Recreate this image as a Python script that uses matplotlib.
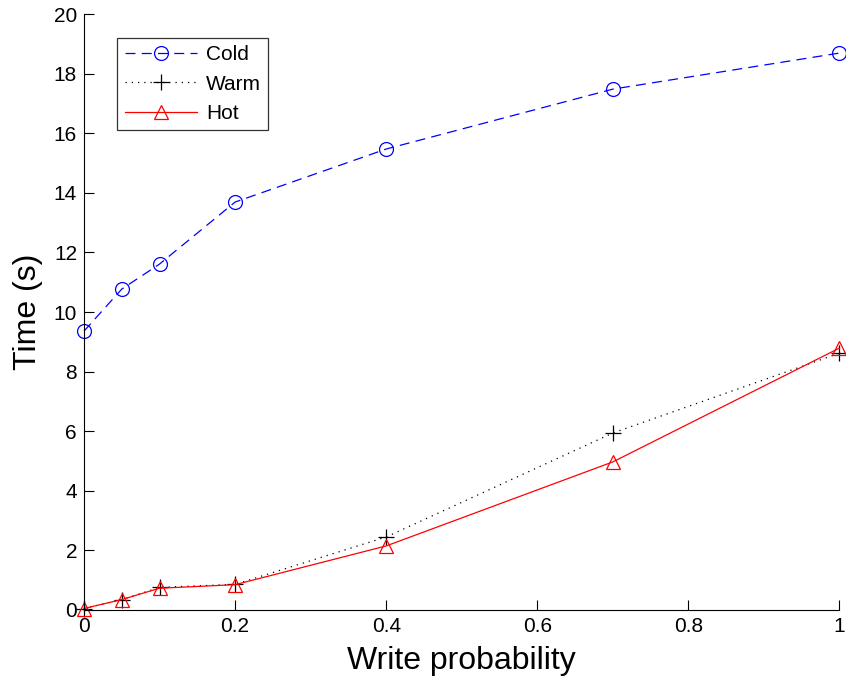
import numpy as np
import matplotlib.pyplot as plt

plt.rcParams['font.family'] = ['Liberation Sans', 'DejaVu Sans']

# write probability on x
prob = [0, 0.05, 0.1, 0.2, 0.4, 0.7, 1.0]
cold = [9.36, 10.77, 11.61, 13.69, 15.47, 17.48, 18.69]
warm = [0.05, 0.35, 0.76, 0.86, 2.45, 5.94, 8.62]
hot = [0.05, 0.35, 0.73, 0.85, 2.15, 4.97, 8.79]

fig = plt.figure(figsize=(8.46, 6.78), dpi=100)
ax = fig.add_axes([0.0993, 0.1003, 0.893, 0.879])

ax.plot(prob, cold, color='blue', ls=(0, (8, 5)), lw=0.9, marker='o',
        ms=10, mfc='none', mec='blue', mew=0.9, label='Cold', clip_on=False)
ax.plot(prob, warm, color='black', ls=(0, (1, 4)), lw=0.9, marker='+',
        ms=11, mew=0.9, label='Warm', clip_on=False)
ax.plot(prob, hot, color='red', ls='-', lw=0.9, marker='^',
        ms=10, mfc='none', mec='red', mew=0.9, label='Hot', clip_on=False)

ax.set_xlim(0, 1)
ax.set_ylim(0, 20)
ax.set_xticks([0, 0.2, 0.4, 0.6, 0.8, 1])
ax.set_xticklabels(['0', '0.2', '0.4', '0.6', '0.8', '1'])
ax.set_yticks(range(0, 21, 2))
ax.tick_params(direction='in', length=7, width=0.8, labelsize=15, pad=5)
ax.spines['top'].set_visible(False)
ax.spines['right'].set_visible(False)

ax.set_xlabel('Write probability', fontsize=23, labelpad=7)
ax.set_ylabel('Time (s)', fontsize=23, labelpad=8)

leg = ax.legend(loc='upper left', bbox_to_anchor=(0.044, 0.96), fontsize=15,
                frameon=True, fancybox=False, edgecolor='black',
                handlelength=3.5, borderpad=0.35, labelspacing=0.5,
                handletextpad=0.4, borderaxespad=0)
leg.get_frame().set_linewidth(0.9)

fig.savefig('out.png', dpi=100)
